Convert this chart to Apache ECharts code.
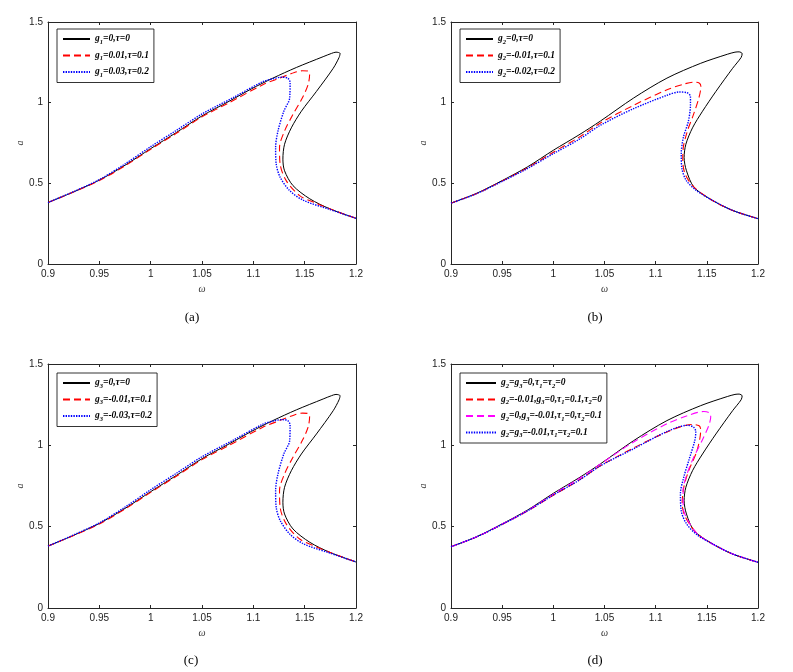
<!DOCTYPE html>
<html>
<head>
<meta charset="utf-8">
<script src="https://cdn.jsdelivr.net/npm/echarts@6/dist/echarts.min.js"></script>
<style>
  html, body { margin: 0; padding: 0; background: #fff; }
  #main { width: 793px; height: 672px; }
</style>
</head>
<body>
<div id="main"></div>
<script>
// tick labels
const omegaTicks = [0.9, 1.2, 0.05];
const ampTicks = [0, 1.5, 0.5];

// (a) g1 / tau   [omega, a] along each curve
const aBlack = [[0.9,0.381],[0.925,0.447],[0.95,0.52],[0.975,0.612],[1.0,0.715],[1.025,0.815],[1.05,0.918],[1.0765,1.009],[1.098,1.085],[1.119,1.152],[1.1419,1.218],[1.168,1.285],[1.176,1.305],[1.1805,1.313],[1.1845,1.305],[1.1835,1.28],[1.1778,1.213],[1.1615,1.07],[1.1468,0.947],[1.137,0.844],[1.1304,0.742],[1.1288,0.65],[1.1304,0.578],[1.1386,0.486],[1.155,0.404],[1.1745,0.342],[1.2,0.283]];
const aRed = [[0.9,0.381],[0.925,0.446],[0.95,0.517],[0.975,0.608],[1.0,0.711],[1.025,0.81],[1.05,0.912],[1.0765,1.0],[1.1092,1.111],[1.1255,1.152],[1.14,1.187],[1.148,1.198],[1.1535,1.195],[1.1548,1.175],[1.1533,1.111],[1.1477,1.029],[1.1386,0.927],[1.1304,0.824],[1.1255,0.722],[1.1261,0.619],[1.132,0.517],[1.1451,0.424],[1.16,0.38],[1.1745,0.342],[1.2,0.283]];
const aBlue = [[0.9,0.381],[0.925,0.449],[0.95,0.523],[0.975,0.62],[1.0,0.727],[1.025,0.828],[1.05,0.93],[1.08,1.03],[1.1092,1.13],[1.12,1.15],[1.128,1.158],[1.1335,1.152],[1.1358,1.125],[1.1354,1.029],[1.1297,0.947],[1.124,0.824],[1.1217,0.722],[1.1223,0.619],[1.1262,0.537],[1.1354,0.455],[1.149,0.394],[1.1745,0.338],[1.2,0.283]];

// (b) g2 / tau
const bBlack = [[0.9,0.377],[0.925,0.438],[0.95,0.517],[0.975,0.603],[1.0,0.705],[1.025,0.8],[1.046,0.886],[1.0785,1.029],[1.111,1.152],[1.144,1.244],[1.17,1.3],[1.1775,1.313],[1.1815,1.315],[1.1845,1.304],[1.1835,1.28],[1.1752,1.213],[1.1589,1.07],[1.1458,0.947],[1.136,0.844],[1.1295,0.742],[1.1278,0.66],[1.1301,0.578],[1.1376,0.475],[1.1556,0.394],[1.1752,0.332],[1.2,0.281]];
const bRed = [[0.9,0.377],[0.925,0.437],[0.95,0.514],[0.975,0.597],[1.0,0.693],[1.025,0.785],[1.046,0.874],[1.0785,0.984],[1.1111,1.08],[1.1275,1.115],[1.137,1.127],[1.1425,1.122],[1.1442,1.1],[1.1422,1.029],[1.137,0.927],[1.131,0.824],[1.127,0.722],[1.1265,0.64],[1.1288,0.558],[1.1376,0.475],[1.1556,0.394],[1.1752,0.332],[1.2,0.281]];
const bBlue = [[0.9,0.377],[0.925,0.436],[0.95,0.512],[0.975,0.593],[1.0,0.684],[1.025,0.772],[1.046,0.86],[1.0785,0.963],[1.1111,1.046],[1.123,1.066],[1.1305,1.062],[1.134,1.04],[1.134,0.988],[1.132,0.886],[1.127,0.783],[1.125,0.681],[1.1255,0.598],[1.13,0.517],[1.14,0.455],[1.1556,0.394],[1.1752,0.332],[1.2,0.281]];

// (c) g3 / tau  (reads the same as (a))
const cBlack = aBlack;
const cRed = aRed;
const cBlue = aBlue;

// (d) g2, g3 / tau1, tau2
const dBlack = bBlack;
const dRed = [[0.9,0.377],[0.925,0.437],[0.95,0.514],[0.975,0.597],[1.0,0.693],[1.025,0.785],[1.046,0.874],[1.0785,0.984],[1.1111,1.082],[1.1355,1.128],[1.1425,1.12],[1.144,1.095],[1.1405,0.969],[1.1324,0.846],[1.1275,0.743],[1.1259,0.641],[1.1291,0.559],[1.1405,0.457],[1.1556,0.394],[1.1752,0.332],[1.2,0.281]];
const dMagenta = [[0.9,0.377],[0.925,0.438],[0.95,0.516],[0.975,0.6],[1.0,0.7],[1.025,0.795],[1.046,0.885],[1.0785,1.021],[1.1111,1.133],[1.13,1.18],[1.147,1.208],[1.1525,1.2],[1.1538,1.175],[1.152,1.123],[1.1455,1.031],[1.1373,0.928],[1.1308,0.826],[1.1268,0.723],[1.1268,0.62],[1.1314,0.539],[1.1405,0.457],[1.1556,0.394],[1.1752,0.332],[1.2,0.281]];
const dBlue = [[0.9,0.377],[0.925,0.437],[0.95,0.514],[0.975,0.598],[1.0,0.695],[1.025,0.785],[1.046,0.874],[1.0785,0.979],[1.1111,1.085],[1.131,1.123],[1.137,1.112],[1.1392,1.085],[1.1383,1.031],[1.1324,0.908],[1.1275,0.805],[1.1242,0.703],[1.1249,0.6],[1.1301,0.518],[1.1405,0.45],[1.1556,0.394],[1.1752,0.332],[1.2,0.281]];

// legend names (_n = subscript)
const namesA = ['g_1=0,τ=0', 'g_1=0.01,τ=0.1', 'g_1=0.03,τ=0.2'];
const namesB = ['g_2=0,τ=0', 'g_2=-0.01,τ=0.1', 'g_2=-0.02,τ=0.2'];
const namesC = ['g_3=0,τ=0', 'g_3=-0.01,τ=0.1', 'g_3=-0.03,τ=0.2'];
const namesD = ['g_2=g_3=0,τ_1=τ_2=0', 'g_2=-0.01,g_3=0,τ_1=0.1,τ_2=0', 'g_2=0,g_3=-0.01,τ_1=0,τ_2=0.1', 'g_2=g_3=-0.01,τ_1=τ_2=0.1'];
const captions = ['(a)', '(b)', '(c)', '(d)'];

let chart = echarts.init(document.getElementById('main'));

// panel boxes
const grids = [
    {left: 48, top: 22, width: 308, height: 242},
    {left: 451, top: 22, width: 307, height: 242},
    {left: 48, top: 364, width: 308, height: 244},
    {left: 451, top: 364, width: 307, height: 244}
];

const axisCol = '#262626';
const styles = {
    black: {color: '#000000', width: 1, type: 'solid'},
    red: {color: '#ff0000', width: 1.1, type: [7, 4]},
    magenta: {color: '#ff00ff', width: 1.1, type: [7, 4]},
    blue: {color: '#0000ff', width: 1.4, type: [1.4, 1.2]}
};

function legendFmt(name) {
    let parts = name.split(/_(\d)/);
    let out = '';
    for (let i = 0; i < parts.length; i++) {
        if (!parts[i]) continue;
        out += (i % 2 ? '{s|' : '{t|') + parts[i] + '}';
    }
    return out;
}

let xAxes = [], yAxes = [];
grids.forEach(function (g, i) {
    xAxes.push({
        type: 'value', gridIndex: i, position: 'bottom',
        min: omegaTicks[0], max: omegaTicks[1], interval: omegaTicks[2],
        name: 'ω', nameLocation: 'middle', nameGap: 20,
        nameTextStyle: {fontFamily: 'Liberation Serif', fontStyle: 'italic', fontSize: 10, color: '#333'},
        axisLine: {onZero: false, lineStyle: {color: axisCol, width: 1}},
        axisTick: {inside: true, length: 3, lineStyle: {color: axisCol}},
        axisLabel: {fontFamily: 'Liberation Sans', fontSize: 10, color: '#222', margin: 5},
        splitLine: {show: false}
    });
    xAxes.push({
        type: 'value', gridIndex: i, position: 'top',
        min: omegaTicks[0], max: omegaTicks[1], interval: omegaTicks[2],
        axisLine: {onZero: false, lineStyle: {color: axisCol, width: 1}},
        axisTick: {inside: true, length: 3, lineStyle: {color: axisCol}},
        axisLabel: {show: false},
        splitLine: {show: false}
    });
    yAxes.push({
        type: 'value', gridIndex: i, position: 'left',
        min: ampTicks[0], max: ampTicks[1], interval: ampTicks[2],
        name: 'a', nameLocation: 'middle', nameGap: 22,
        nameTextStyle: {fontFamily: 'Liberation Serif', fontStyle: 'italic', fontSize: 10, color: '#333'},
        axisLine: {onZero: false, lineStyle: {color: axisCol, width: 1}},
        axisTick: {inside: true, length: 3, lineStyle: {color: axisCol}},
        axisLabel: {fontFamily: 'Liberation Sans', fontSize: 10, color: '#222', margin: 5},
        splitLine: {show: false}
    });
    yAxes.push({
        type: 'value', gridIndex: i, position: 'right',
        min: ampTicks[0], max: ampTicks[1], interval: ampTicks[2],
        axisLine: {onZero: false, lineStyle: {color: axisCol, width: 1}},
        axisTick: {inside: true, length: 3, lineStyle: {color: axisCol}},
        axisLabel: {show: false},
        splitLine: {show: false}
    });
});

function line(name, panel, data, st) {
    return {
        name: name, type: 'line',
        xAxisIndex: panel * 2, yAxisIndex: panel * 2,
        data: data, symbol: 'none', smooth: 0.3, clip: true,
        lineStyle: st, itemStyle: {color: st.color},
        emphasis: {disabled: true}, animation: false
    };
}

const series = [
    line(namesA[0], 0, aBlack, styles.black),
    line(namesA[1], 0, aRed, styles.red),
    line(namesA[2], 0, aBlue, styles.blue),
    line(namesB[0], 1, bBlack, styles.black),
    line(namesB[1], 1, bRed, styles.red),
    line(namesB[2], 1, bBlue, styles.blue),
    line(namesC[0], 2, cBlack, styles.black),
    line(namesC[1], 2, cRed, styles.red),
    line(namesC[2], 2, cBlue, styles.blue),
    line(namesD[0], 3, dBlack, styles.black),
    line(namesD[1], 3, dRed, styles.red),
    line(namesD[2], 3, dMagenta, styles.magenta),
    line(namesD[3], 3, dBlue, styles.blue)
];

function legend(names, left, top, w) {
    return {
        data: names, orient: 'vertical', left: left, top: top,
        padding: [5, 5, 4, 5], itemGap: 5, itemWidth: w, itemHeight: 10,
        borderColor: '#000', borderWidth: 0.8, backgroundColor: '#fff',
        selectedMode: false,
        itemStyle: {opacity: 0},
        formatter: legendFmt,
        textStyle: {
            rich: {
                t: {fontFamily: 'Liberation Serif', fontStyle: 'italic', fontWeight: 'bold', fontSize: 9.5, color: '#000'},
                s: {fontFamily: 'Liberation Serif', fontStyle: 'italic', fontWeight: 'bold', fontSize: 6.5, color: '#000', padding: [6, 0, 0, 0]}
            }
        }
    };
}

let captionText = [];
const capPos = [[192, 318], [595, 318], [191, 661], [595, 661]];
captions.forEach(function (c, i) {
    captionText.push({
        type: 'text', x: capPos[i][0], y: capPos[i][1],
        style: {text: c, fontFamily: 'Liberation Serif', fontSize: 13, fill: '#000', textAlign: 'center', textVerticalAlign: 'middle'}
    });
});

option = {
    backgroundColor: '#fff',
    animation: false,
    grid: grids,
    xAxis: xAxes,
    yAxis: yAxes,
    legend: [
        legend(namesA, 57, 29, 27),
        legend(namesB, 460, 29, 27),
        legend(namesC, 57, 373, 27),
        legend(namesD, 460, 373, 30)
    ],
    graphic: captionText,
    series: series
};
chart.setOption(option);
window.onresize = chart.resize;
</script>
</body>
</html>
